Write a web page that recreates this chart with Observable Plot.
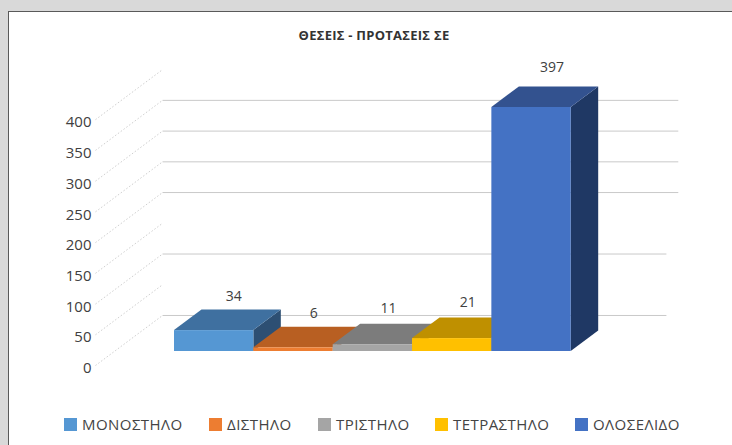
<!DOCTYPE html>
<html lang="el">
<head>
<meta charset="utf-8">
<script src="https://cdn.jsdelivr.net/npm/d3@7"></script>
<script src="https://cdn.jsdelivr.net/npm/@observablehq/plot@0.6"></script>
<style>
  html, body { margin: 0; padding: 0; width: 732px; height: 445px; overflow: hidden; background: #d9d9d9; }
  #card { position: absolute; left: 8px; top: 11px; width: 724px; height: 434px; box-sizing: border-box;
          background: #fff; border-left: 1px solid #595959; border-top: 1px solid #595959; }
  #title { height: 15px; padding: 17px 0 0 275px; width: 180px; box-sizing: content-box; text-align: center;
           font: 700 13px "Open Sans", sans-serif; letter-spacing: .25px; line-height: 12px; color: #333; white-space: nowrap; }
  #chart svg { display: block; background: transparent; }
  #legend { position: relative; height: 20px; font: 400 15px "Open Sans", sans-serif; color: #444; margin-top: 12px; letter-spacing: .45px; }
  #legend span.item { position: absolute; top: 0; display: flex; align-items: center; height: 20px; white-space: nowrap; }
  #legend i { display: inline-block; width: 13px; height: 13px; margin-right: 5px; }
</style>
</head>
<body>
<div id="card">
  <div id="title">ΘΕΣΕΙΣ - ΠΡΟΤΑΣΕΙΣ ΣΕ</div>
  <div id="chart"></div>
  <div id="legend"></div>
</div>
<script>
// Data
const categories = ["ΜΟΝΟΣΤΗΛΟ", "ΔΙΣΤΗΛΟ", "ΤΡΙΣΤΗΛΟ", "ΤΕΤΡΑΣΤΗΛΟ", "ΟΛΟΣΕΛΙΔΟ"];
const values = [34, 6, 11, 21, 397];
const yTicks = [0, 50, 100, 150, 200, 250, 300, 350, 400];
const backGrid = [0, 100, 200, 250, 300, 350];

// Styles
const frontColors = ["#5597d3", "#ed7d31", "#a5a5a5", "#ffc000", "#4472c4"];
const topColors = ["#3f70a0", "#b85f22", "#7c7c7c", "#bf9000", "#33528f"];
const sideColors = ["#2d4f73", "#8a4a1e", "#5f5f5f", "#8f6c00", "#1f3864"];

// Layout of the 3-D box, in data units of the two scales
const depthX = 0.3466, depthY = 33.4;
const wallX = -0.151, wallY = 58.6;     // back-left corner, value 0
const floorX = -0.996, floorY = -22.8;  // front-left corner, value 0
const labelX = -1.046, labelY = -27.5;
const gridEnd = v => v >= 200 ? 6.35 : 6.2;
const labelNudge = [[-0.1, 6], [-0.09, 7], [-0.15, 9], [-0.15, 9], [-0.09, 15]];

const marks = [];
marks.push(Plot.link(yTicks, {
  x1: floorX, x2: wallX, y1: d => d + floorY, y2: d => d + wallY,
  stroke: "#cfcfcf", strokeWidth: 1, strokeDasharray: "1.5 2"
}));
marks.push(Plot.link(backGrid, {
  x1: wallX, x2: gridEnd, y1: d => d + wallY, y2: d => d + wallY,
  stroke: "#c9c9c9", strokeWidth: 1
}));
marks.push(Plot.text(yTicks, {
  x: labelX, y: d => d + labelY, text: d => String(d), textAnchor: "end",
  fontSize: 15, fill: "#404040"
}));
values.forEach((v, i) => {
  marks.push(Plot.areaY([
    {x: i + 1, a: 0, b: v},
    {x: i + 1 + depthX, a: depthY, b: v + depthY}
  ], {x: "x", y1: "a", y2: "b", fill: sideColors[i]}));
  marks.push(Plot.areaX([
    {y: v, a: i, b: i + 1},
    {y: v + depthY, a: i + depthX, b: i + 1 + depthX}
  ], {y: "y", x1: "a", x2: "b", fill: topColors[i]}));
  marks.push(Plot.rect([v], {
    x1: i, x2: i + 1, y1: 0, y2: d => d, fill: frontColors[i]
  }));
});
marks.push(Plot.text(values, {
  x: (d, i) => i + 0.5 + depthX + labelNudge[i][0],
  y: (d, i) => d + depthY + labelNudge[i][1] + 16,
  text: d => String(d), fontSize: 14, fill: "#404040"
}));

const plot = Plot.plot({
  width: 723, height: 358,
  marginLeft: 165, marginRight: 161.3, marginTop: 63, marginBottom: 51,
  x: {domain: [0, 5], axis: null},
  y: {domain: [0, 397], axis: null},
  style: {fontFamily: '"Open Sans", sans-serif', background: "transparent", overflow: "visible"},
  marks
});
document.getElementById("chart").append(plot);

// Legend
const legendLeft = [55, 200, 309, 426, 566];
const legend = document.getElementById("legend");
categories.forEach((c, i) => {
  const s = document.createElement("span");
  s.className = "item";
  s.style.left = legendLeft[i] + "px";
  const sw = document.createElement("i");
  sw.style.background = frontColors[i];
  s.append(sw, c);
  legend.append(s);
});
</script>
</body>
</html>
